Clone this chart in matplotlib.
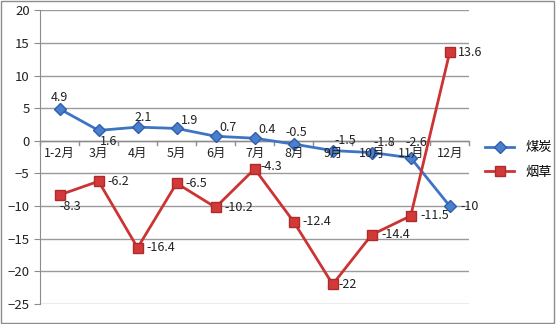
import matplotlib.pyplot as plt
import numpy as np

plt.rcParams['font.family'] = ['Noto Sans CJK SC', 'DejaVu Sans']

months = ['1-2月', '3月', '4月', '5月', '6月', '7月', '8月', '9月', '10月', '11月', '12月']
coal = [4.9, 1.6, 2.1, 1.9, 0.7, 0.4, -0.5, -1.5, -1.8, -2.6, -10]
tobacco = [-8.3, -6.2, -16.4, -6.5, -10.2, -4.3, -12.4, -22, -14.4, -11.5, 13.6]

# label offsets (points), roughly where Excel put them
coal_off = [(0, 8), (7, -8), (4, 7), (9, 6), (9, 6), (9, 6), (2, 8), (9, 7), (9, 7), (4, 11), (14, 0)]
tob_off = [(8, -8), (14, 0), (17, 0), (14, 0), (17, 0), (12, 2), (17, 0), (11, 0), (17, 0), (17, 0), (15, 0)]

fig = plt.figure(figsize=(5.56, 3.24), dpi=100)
fig.patch.set_facecolor('white')
ax = fig.add_axes([0.072, 0.062, 0.772, 0.906])
x = np.arange(len(months))

ax.plot(x, coal, color='#3f74c4', lw=2, marker='D', ms=6.5, mfc='#4a7fd0', mec='#2f5fa8', label='煤炭', zorder=3)
ax.plot(x, tobacco, color='#cc3333', lw=2, marker='s', ms=7.5, mfc='#d23a3a', mec='#b02a2a', label='烟草', zorder=3)

for i in x:
    ax.annotate(f'{coal[i]:g}', (i, coal[i]), xytext=coal_off[i], textcoords='offset points',
                ha='center', va='center', fontsize=9, color='#222222')
    ax.annotate(f'{tobacco[i]:g}', (i, tobacco[i]), xytext=tob_off[i], textcoords='offset points',
                ha='center', va='center', fontsize=9, color='#222222')

ax.set_xlim(-0.5, len(months) - 0.5)
ax.set_ylim(-25, 20)
ax.set_yticks(np.arange(-25, 21, 5))
ax.yaxis.grid(True, color='#9a9a9a', lw=1)
ax.set_axisbelow(True)

for s in ['top', 'right', 'bottom']:
    ax.spines[s].set_visible(False)
ax.spines['left'].set_color('#8c8c8c')
ax.axhline(0, color='#8c8c8c', lw=1, zorder=1)

# category labels sit just under the zero line
ax.set_xticks([])
for i, m in enumerate(months):
    ax.text(i, -1.0, m, ha='center', va='top', fontsize=9, color='#222222')
for t in np.arange(-0.5, len(months)):
    ax.plot([t, t], [0, -0.6], color='#8c8c8c', lw=1, clip_on=False)

ax.tick_params(axis='y', labelsize=9.5, length=4, color='#8c8c8c', labelcolor='#222222')
ax.set_facecolor('none')

ax.legend(loc='center left', bbox_to_anchor=(1.01, 0.49), frameon=False, fontsize=9.5,
          handlelength=2.2, labelspacing=0.9)

border = plt.Rectangle((0.002, 0.003), 0.995, 0.994, transform=fig.transFigure,
                       fill=False, ec='#8c8c8c', lw=1)
fig.patches.append(border)

fig.savefig('out.png', dpi=100)
